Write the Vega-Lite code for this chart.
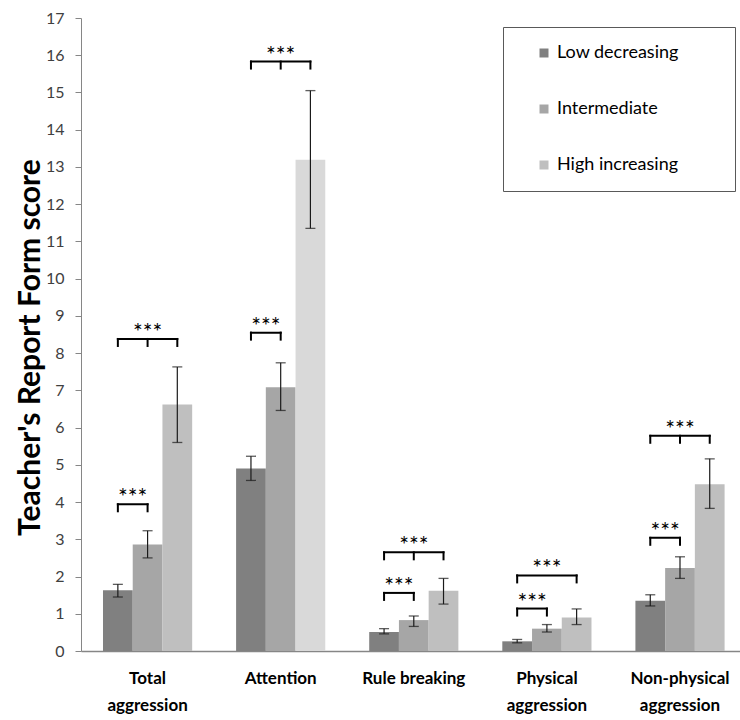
{
  "$schema": "https://vega.github.io/schema/vega-lite/v6.json",
  "width": 659,
  "height": 633,
  "autosize": {"type": "none"},
  "padding": {"left": 81, "top": 18, "right": 0, "bottom": 69},
  "config": {
    "font": "Lato",
    "view": {"stroke": null},
    "axisY": {
      "domainColor": "#868686", "tickColor": "#868686", "tickSize": 6,
      "labelFontSize": 16, "labelColor": "#404040", "labelPadding": 11,
      "grid": false, "tickCount": 17,
      "titleFontSize": 30, "titleFontWeight": "bold", "titleColor": "#000000",
      "titleX": -51, "titleY": 329, "titleAngle": -90, "titleBaseline": "middle", "titleAlign": "center"
    },
    "axisX": {
      "domainColor": "#868686", "domainWidth": 1.5, "ticks": false,
      "labelFontSize": 17, "labelFontWeight": "bold", "labelColor": "#000000",
      "labelPadding": 19, "labelAngle": 0, "labelLineHeight": 27
    }
  },
  "datasets": {
    "bars": [
      {"category": "Total aggression", "trajectory": "Low decreasing", "mean": 1.63, "lower": 1.45, "upper": 1.79},
      {"category": "Total aggression", "trajectory": "Intermediate", "mean": 2.86, "lower": 2.50, "upper": 3.23},
      {"category": "Total aggression", "trajectory": "High increasing", "mean": 6.62, "lower": 5.60, "upper": 7.63},
      {"category": "Attention", "trajectory": "Low decreasing", "mean": 4.90, "lower": 4.58, "upper": 5.23},
      {"category": "Attention", "trajectory": "Intermediate", "mean": 7.08, "lower": 6.46, "upper": 7.74},
      {"category": "Attention", "trajectory": "High increasing", "mean": 13.19, "lower": 11.35, "upper": 15.05},
      {"category": "Rule breaking", "trajectory": "Low decreasing", "mean": 0.51, "lower": 0.46, "upper": 0.60},
      {"category": "Rule breaking", "trajectory": "Intermediate", "mean": 0.83, "lower": 0.66, "upper": 0.94},
      {"category": "Rule breaking", "trajectory": "High increasing", "mean": 1.62, "lower": 1.26, "upper": 1.95},
      {"category": "Physical aggression", "trajectory": "Low decreasing", "mean": 0.26, "lower": 0.22, "upper": 0.31},
      {"category": "Physical aggression", "trajectory": "Intermediate", "mean": 0.60, "lower": 0.51, "upper": 0.71},
      {"category": "Physical aggression", "trajectory": "High increasing", "mean": 0.90, "lower": 0.71, "upper": 1.13},
      {"category": "Non-physical aggression", "trajectory": "Low decreasing", "mean": 1.35, "lower": 1.21, "upper": 1.51},
      {"category": "Non-physical aggression", "trajectory": "Intermediate", "mean": 2.23, "lower": 1.95, "upper": 2.53},
      {"category": "Non-physical aggression", "trajectory": "High increasing", "mean": 4.48, "lower": 3.83, "upper": 5.16}
    ],
    "brackets": [
      {"category": "Total aggression", "comparison": "Low vs Intermediate", "level": 3.94, "significance": "***"},
      {"category": "Total aggression", "comparison": "Low vs High", "level": 8.38, "significance": "***"},
      {"category": "Attention", "comparison": "Low vs Intermediate", "level": 8.55, "significance": "***"},
      {"category": "Attention", "comparison": "Low vs High", "level": 15.83, "significance": "***"},
      {"category": "Rule breaking", "comparison": "Low vs Intermediate", "level": 1.56, "significance": "***"},
      {"category": "Rule breaking", "comparison": "Low vs High", "level": 2.65, "significance": "***"},
      {"category": "Physical aggression", "comparison": "Low vs Intermediate", "level": 1.14, "significance": "***"},
      {"category": "Physical aggression", "comparison": "Low vs High", "level": 2.03, "significance": "***"},
      {"category": "Non-physical aggression", "comparison": "Low vs Intermediate", "level": 3.04, "significance": "***"},
      {"category": "Non-physical aggression", "comparison": "Low vs High", "level": 5.78, "significance": "***"}
    ],
    "bracketEnds": [
      {"category": "Total aggression", "trajectory": "Low decreasing", "level": 3.94},
      {"category": "Total aggression", "trajectory": "Intermediate", "level": 3.94},
      {"category": "Total aggression", "trajectory": "Low decreasing", "level": 8.38},
      {"category": "Total aggression", "trajectory": "Intermediate", "level": 8.38},
      {"category": "Total aggression", "trajectory": "High increasing", "level": 8.38},
      {"category": "Attention", "trajectory": "Low decreasing", "level": 8.55},
      {"category": "Attention", "trajectory": "Intermediate", "level": 8.55},
      {"category": "Attention", "trajectory": "Low decreasing", "level": 15.83},
      {"category": "Attention", "trajectory": "Intermediate", "level": 15.83},
      {"category": "Attention", "trajectory": "High increasing", "level": 15.83},
      {"category": "Rule breaking", "trajectory": "Low decreasing", "level": 1.56},
      {"category": "Rule breaking", "trajectory": "Intermediate", "level": 1.56},
      {"category": "Rule breaking", "trajectory": "Low decreasing", "level": 2.65},
      {"category": "Rule breaking", "trajectory": "Intermediate", "level": 2.65},
      {"category": "Rule breaking", "trajectory": "High increasing", "level": 2.65},
      {"category": "Physical aggression", "trajectory": "Low decreasing", "level": 1.14},
      {"category": "Physical aggression", "trajectory": "Intermediate", "level": 1.14},
      {"category": "Physical aggression", "trajectory": "Low decreasing", "level": 2.03},
      {"category": "Physical aggression", "trajectory": "High increasing", "level": 2.03},
      {"category": "Non-physical aggression", "trajectory": "Low decreasing", "level": 3.04},
      {"category": "Non-physical aggression", "trajectory": "Intermediate", "level": 3.04},
      {"category": "Non-physical aggression", "trajectory": "Low decreasing", "level": 5.78},
      {"category": "Non-physical aggression", "trajectory": "Intermediate", "level": 5.78},
      {"category": "Non-physical aggression", "trajectory": "High increasing", "level": 5.78}
    ]
  },
  "layer": [
    {
      "data": {"name": "bars"},
      "mark": {"type": "bar"},
      "encoding": {
        "x": {
          "field": "category", "type": "nominal",
          "sort": ["Total aggression", "Attention", "Rule breaking", "Physical aggression", "Non-physical aggression"],
          "scale": {"paddingInner": 0.33, "paddingOuter": 0.1405, "align": 0.588},
          "axis": {
            "title": null,
            "labelExpr": "datum.value === 'Total aggression' ? ['Total', 'aggression'] : datum.value === 'Physical aggression' ? ['Physical', 'aggression'] : datum.value === 'Non-physical aggression' ? ['Non-physical', 'aggression'] : datum.value"
          }
        },
        "xOffset": {
          "field": "trajectory", "type": "nominal",
          "sort": ["Low decreasing", "Intermediate", "High increasing"],
          "scale": {"paddingInner": 0, "paddingOuter": 0}
        },
        "y": {
          "field": "mean", "type": "quantitative",
          "scale": {"domain": [0, 17], "nice": false},
          "title": "Teacher's Report Form score"
        },
        "color": {
          "condition": {"test": "datum.category === 'Attention' && datum.trajectory === 'High increasing'", "value": "#d9d9d9"},
          "field": "trajectory", "type": "nominal",
          "sort": ["Low decreasing", "Intermediate", "High increasing"],
          "scale": {"domain": ["Low decreasing", "Intermediate", "High increasing"], "range": ["#808080", "#a6a6a6", "#bfbfbf"]},
          "legend": {
            "orient": "none", "legendX": 422, "legendY": 9, "title": null,
            "strokeColor": "#595959", "padding": 17, "rowPadding": 38,
            "symbolType": "square", "symbolSize": 81, "symbolStrokeWidth": 0, "symbolOffset": 15,
            "labelFontSize": 18, "labelColor": "#000000", "labelOffset": 4, "labelLimit": 300,
            "labelExpr": "datum.label + '\u2800\u2800\u2800'"
          }
        }
      }
    },
    {
      "data": {"name": "bars"},
      "mark": {"type": "rule", "color": "#1a1a1a", "strokeWidth": 1.2},
      "encoding": {
        "x": {"field": "category", "type": "nominal", "sort": ["Total aggression", "Attention", "Rule breaking", "Physical aggression", "Non-physical aggression"]},
        "xOffset": {"field": "trajectory", "type": "nominal", "sort": ["Low decreasing", "Intermediate", "High increasing"]},
        "y": {"field": "lower", "type": "quantitative", "title": "Teacher's Report Form score"},
        "y2": {"field": "upper"}
      }
    },
    {
      "data": {"name": "bars"},
      "mark": {"type": "tick", "orient": "horizontal", "size": 10, "thickness": 1.3, "color": "#1a1a1a"},
      "encoding": {
        "x": {"field": "category", "type": "nominal", "sort": ["Total aggression", "Attention", "Rule breaking", "Physical aggression", "Non-physical aggression"]},
        "xOffset": {"field": "trajectory", "type": "nominal", "sort": ["Low decreasing", "Intermediate", "High increasing"]},
        "y": {"field": "upper", "type": "quantitative", "title": "Teacher's Report Form score"}
      }
    },
    {
      "data": {"name": "bars"},
      "mark": {"type": "tick", "orient": "horizontal", "size": 10, "thickness": 1.3, "color": "#1a1a1a"},
      "encoding": {
        "x": {"field": "category", "type": "nominal", "sort": ["Total aggression", "Attention", "Rule breaking", "Physical aggression", "Non-physical aggression"]},
        "xOffset": {"field": "trajectory", "type": "nominal", "sort": ["Low decreasing", "Intermediate", "High increasing"]},
        "y": {"field": "lower", "type": "quantitative", "title": "Teacher's Report Form score"}
      }
    },
    {
      "data": {"name": "brackets"},
      "transform": [{"filter": "datum.comparison === 'Low vs Intermediate'"}],
      "mark": {"type": "rule", "color": "#000000", "strokeWidth": 2, "strokeCap": "square"},
      "encoding": {
        "x": {"field": "category", "type": "nominal", "sort": ["Total aggression", "Attention", "Rule breaking", "Physical aggression", "Non-physical aggression"], "bandPosition": 0.16667},
        "x2": {"field": "category", "bandPosition": 0.5},
        "y": {"field": "level", "type": "quantitative", "title": "Teacher's Report Form score"}
      }
    },
    {
      "data": {"name": "brackets"},
      "transform": [{"filter": "datum.comparison === 'Low vs High'"}],
      "mark": {"type": "rule", "color": "#000000", "strokeWidth": 2, "strokeCap": "square"},
      "encoding": {
        "x": {"field": "category", "type": "nominal", "sort": ["Total aggression", "Attention", "Rule breaking", "Physical aggression", "Non-physical aggression"], "bandPosition": 0.16667},
        "x2": {"field": "category", "bandPosition": 0.83333},
        "y": {"field": "level", "type": "quantitative", "title": "Teacher's Report Form score"}
      }
    },
    {
      "data": {"name": "bracketEnds"},
      "mark": {"type": "rule", "color": "#000000", "strokeWidth": 2, "strokeCap": "square", "y2Offset": 7},
      "encoding": {
        "x": {"field": "category", "type": "nominal", "sort": ["Total aggression", "Attention", "Rule breaking", "Physical aggression", "Non-physical aggression"]},
        "xOffset": {"field": "trajectory", "type": "nominal", "sort": ["Low decreasing", "Intermediate", "High increasing"]},
        "y": {"field": "level", "type": "quantitative", "title": "Teacher's Report Form score"},
        "y2": {"field": "level"}
      }
    },
    {
      "data": {"name": "brackets"},
      "transform": [{"filter": "datum.comparison === 'Low vs Intermediate'"}],
      "mark": {"type": "text", "fontSize": 23, "baseline": "alphabetic", "align": "center", "dy": 1, "color": "#000000"},
      "encoding": {
        "x": {"field": "category", "type": "nominal", "sort": ["Total aggression", "Attention", "Rule breaking", "Physical aggression", "Non-physical aggression"], "bandPosition": 0.33333},
        "y": {"field": "level", "type": "quantitative", "title": "Teacher's Report Form score"},
        "text": {"field": "significance"}
      }
    },
    {
      "data": {"name": "brackets"},
      "transform": [{"filter": "datum.comparison === 'Low vs High'"}],
      "mark": {"type": "text", "fontSize": 23, "baseline": "alphabetic", "align": "center", "dy": 1, "color": "#000000"},
      "encoding": {
        "x": {"field": "category", "type": "nominal", "sort": ["Total aggression", "Attention", "Rule breaking", "Physical aggression", "Non-physical aggression"], "bandPosition": 0.5},
        "y": {"field": "level", "type": "quantitative", "title": "Teacher's Report Form score"},
        "text": {"field": "significance"}
      }
    },
    {
      "mark": {"type": "rule", "color": "#868686", "strokeWidth": 1.5},
      "encoding": {"y": {"datum": 17}}
    }
  ]
}
